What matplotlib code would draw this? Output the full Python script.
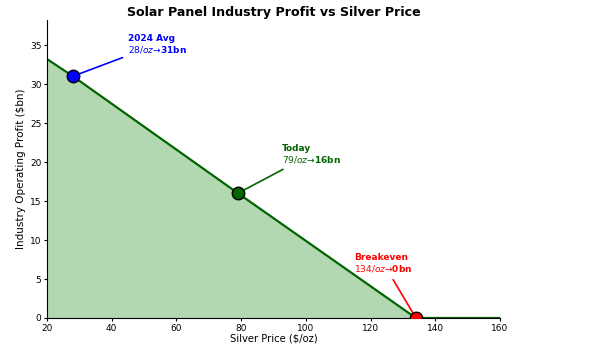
import numpy as np
import matplotlib
matplotlib.use("Agg")
import matplotlib.pyplot as plt

# silver price ($/oz) vs industry operating profit ($bn)
silver = [20, 28, 79, 134, 160]
profit = [33.2, 31, 16, 0, 0]

points_x = [28, 79, 134]
points_y = [31, 16, 0]
point_colors = ["blue", "darkgreen", "red"]
point_labels = ["2024 Avg\n$28/oz→$31bn", "Today\n$79/oz→$16bn", "Breakeven\n$134/oz→$0bn"]
text_pos = [(45, 34), (92.5, 19.9), (115, 5.9)]

fig = plt.figure(figsize=(6.06, 3.44), dpi=100)
ax = fig.add_axes([0.0776, 0.0756, 0.7475, 0.866])

ax.plot(silver, profit, color="darkgreen", lw=1.6)
ax.fill_between(silver, profit, 0, color="green", alpha=0.3, lw=0)

for x, y, c, lab, tp in zip(points_x, points_y, point_colors, point_labels, text_pos):
    ax.plot(x, y, "o", color=c, markersize=9, markeredgecolor="black", markeredgewidth=1, zorder=5)
    ax.annotate(lab, xy=(x, y), xytext=tp, color=c, fontsize=6.5, fontweight="bold",
                arrowprops=dict(arrowstyle="-", color=c, lw=1.2))

ax.set_xlim(20, 160)
ax.set_ylim(0, 38.2)
ax.spines["top"].set_visible(False)
ax.spines["right"].set_visible(False)
ax.tick_params(labelsize=6.5, length=2.5, pad=1.5)
ax.set_xlabel("Silver Price ($/oz)", fontsize=7.2, labelpad=1)
ax.set_ylabel("Industry Operating Profit ($bn)", fontsize=7.5, labelpad=3)
ax.set_title("Solar Panel Industry Profit vs Silver Price", fontsize=9.1, fontweight="bold", pad=3)

fig.savefig("out.png", dpi=100)
